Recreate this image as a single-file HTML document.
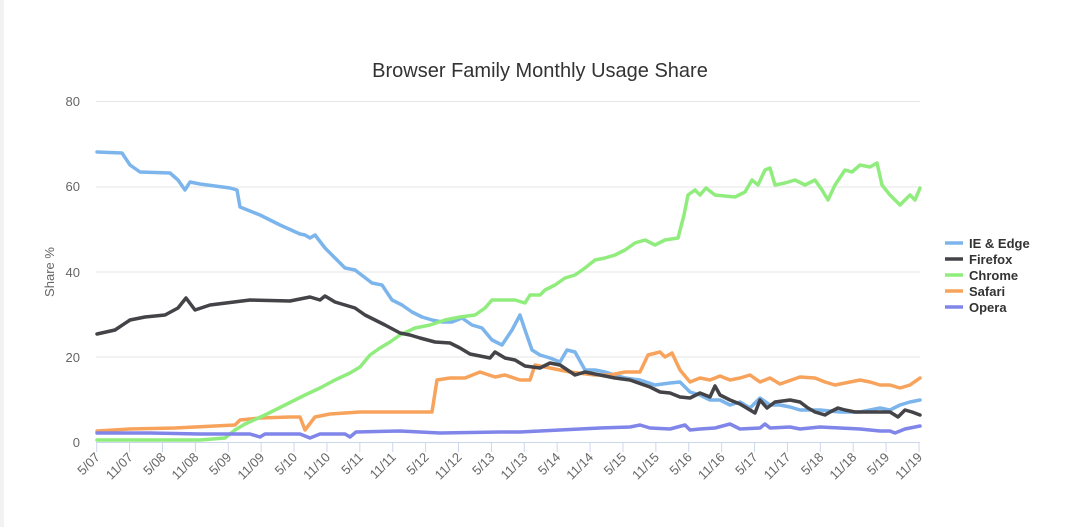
<!DOCTYPE html>
<html><head><meta charset="utf-8"><style>
body{margin:0;background:#fff;}
svg{display:block;font-family:"Liberation Sans",sans-serif;}
</style></head><body>
<svg width="1080" height="527" viewBox="0 0 1080 527">
<rect x="0" y="0" width="1080" height="527" fill="#fff"/>
<rect x="0" y="0" width="4" height="527" fill="#f2f2f2"/>
<text x="540" y="77" text-anchor="middle" font-size="20" fill="#333">Browser Family Monthly Usage Share</text>
<g stroke="#e6e6e6" stroke-width="1">
<line x1="96" x2="920" y1="101.5" y2="101.5"/>
<line x1="96" x2="920" y1="187" y2="187"/>
<line x1="96" x2="920" y1="272" y2="272"/>
<line x1="96" x2="920" y1="357" y2="357"/>
</g>
<line x1="96" x2="920" y1="442.5" y2="442.5" stroke="#ccd6eb"/>
<g font-size="13" fill="#666" text-anchor="end">
<text x="80" y="106">80</text><text x="80" y="191">60</text><text x="80" y="277">40</text><text x="80" y="362">20</text><text x="80" y="447">0</text>
</g>
<text transform="translate(54,272) rotate(-90)" text-anchor="middle" font-size="13" fill="#666">Share %</text>
<g id="ticks" stroke="#ccd6eb"></g>
<g id="xl" font-size="13" fill="#666"></g>
<g fill="none" stroke-width="3.5" stroke-linejoin="round" stroke-linecap="round">
<polyline stroke="#7cb5ec" points="97,152 122,153 130,165 140,172 170,173 178,180 185,190 190,182 200,184 230,188 237,190 240,207 260,215 280,225 300,234 305,235 310,238 315,235 325,248 335,258 345,268 355,270 372,283 382,285 392,300 402,305 412,312 422,317 432,320 442,322 452,322 462,318 472,325 482,328 492,340 502,345 512,330 520,315 525,330 532,350 540,355 550,358 560,362 567,350 575,352 585,370 595,370 605,372 615,375 625,378 640,380 655,385 670,383 680,382 690,392 700,395 710,400 720,400 730,405 740,402 750,408 760,398 770,405 780,405 790,407 800,410 810,410 820,410 840,412 860,412 870,410 880,408 890,410 900,405 910,402 920,400"/>
<polyline stroke="#f7a35c" points="97,431 130,429 175,428 235,425 240,420 260,418 290,417 300,417 305,430 315,417 330,414 360,412 390,412 415,412 432,412 437,380 450,378 465,378 480,372 495,377 505,375 520,380 530,380 535,365 550,368 570,372 595,375 610,375 625,372 640,372 648,355 660,352 665,357 672,353 680,370 690,382 700,378 710,380 720,376 730,380 740,378 750,375 760,382 770,378 780,384 800,377 815,378 825,382 835,385 850,382 860,380 870,382 880,385 890,385 900,388 910,385 920,378"/>
<polyline stroke="#90ed7d" points="97,440 200,440 225,438 235,430 245,424 265,415 285,405 305,395 320,388 335,380 350,373 360,367 370,355 380,348 390,342 400,335 415,328 430,325 445,320 460,317 475,315 485,308 492,300 505,300 515,300 525,303 530,295 540,295 545,290 555,285 565,278 575,275 585,268 595,260 605,258 615,255 625,250 635,243 645,240 655,245 665,240 678,238 684,215 688,195 695,190 700,195 706,188 715,195 735,197 745,192 752,180 758,185 765,170 770,168 775,185 785,183 795,180 805,185 815,180 822,190 828,200 835,185 845,170 852,172 860,165 870,167 877,163 882,185 890,195 900,205 910,195 915,200 920,188"/>
<polyline stroke="#434348" points="97,334 115,330 130,320 145,317 165,315 178,308 186,298 195,310 210,305 250,300 290,301 310,297 320,300 325,296 335,302 345,305 355,308 365,315 375,320 385,325 400,333 410,335 420,338 435,342 450,343 460,348 470,354 480,356 490,358 495,352 505,358 515,360 525,366 540,368 550,363 560,365 575,375 585,372 600,375 615,378 630,380 650,387 660,392 670,393 680,397 690,398 700,393 710,397 715,386 720,395 730,400 740,404 750,410 755,413 760,400 767,408 775,402 790,400 800,402 808,408 815,412 825,415 830,412 838,408 845,410 855,412 870,412 880,412 890,412 898,417 905,410 912,412 920,415"/>
<polyline stroke="#8085e9" points="97,433 150,433 200,434 250,434 260,437 265,434 300,434 310,438 320,434 345,434 350,437 356,432 400,431 440,433 500,432 520,432 560,430 600,428 630,427 640,425 650,428 670,429 685,425 690,430 700,429 715,428 730,424 740,429 760,428 765,424 770,428 790,427 800,429 820,427 840,428 860,429 880,431 890,431 895,433 905,429 920,426"/>
</g>
<g font-size="13" font-weight="bold" fill="#333">
<line x1="945" x2="963" y1="243" y2="243" stroke="#7cb5ec" stroke-width="3.5"/><text x="969" y="248">IE &amp; Edge</text>
<line x1="945" x2="963" y1="259" y2="259" stroke="#434348" stroke-width="3.5"/><text x="969" y="264">Firefox</text>
<line x1="945" x2="963" y1="275" y2="275" stroke="#90ed7d" stroke-width="3.5"/><text x="969" y="280">Chrome</text>
<line x1="945" x2="963" y1="291" y2="291" stroke="#f7a35c" stroke-width="3.5"/><text x="969" y="296">Safari</text>
<line x1="945" x2="963" y1="307" y2="307" stroke="#8085e9" stroke-width="3.5"/><text x="969" y="312">Opera</text>
</g>
<script>
var labs=[],t=document.getElementById('ticks'),xl=document.getElementById('xl');
for(var i=0;i<=25;i++){var yr=7+Math.floor(i/2);var l=(i%2?'11/':'5/')+(yr<10?'0'+yr:yr);
var x=96.7+i*(822.3/25);
var ln=document.createElementNS('http://www.w3.org/2000/svg','line');
ln.setAttribute('x1',x);ln.setAttribute('x2',x);ln.setAttribute('y1',442);ln.setAttribute('y2',452);t.appendChild(ln);
var tx=document.createElementNS('http://www.w3.org/2000/svg','text');
tx.setAttribute('text-anchor','end');tx.setAttribute('transform','translate('+(x+4)+',458) rotate(-45)');tx.textContent=l;xl.appendChild(tx);}
</script>
</svg>
</body></html>
